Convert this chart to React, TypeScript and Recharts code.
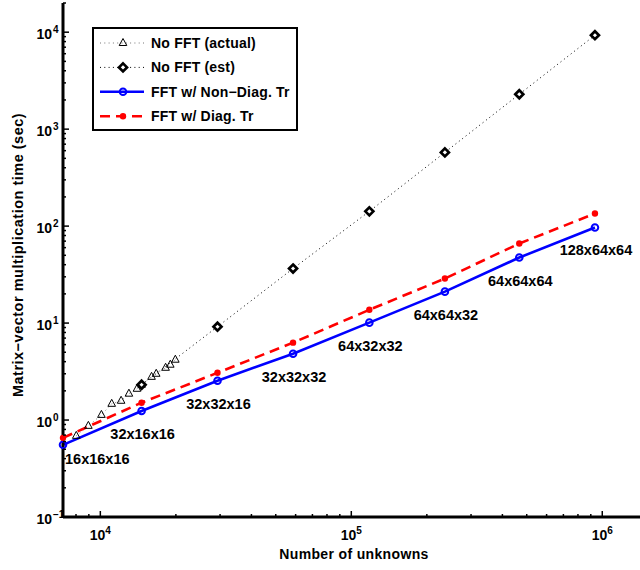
import React from 'react';
import { Label, LabelList, Legend, Line, LineChart, XAxis, YAxis } from 'recharts';

// problem sizes (number of unknowns) and grid names
const unknowns = [7100, 14600, 29300, 58600, 118000, 236000, 467000, 935000];
const gridLabels = ['16x16x16', '32x16x16', '32x32x16', '32x32x32', '64x32x32', '64x64x32', '64x64x64', '128x64x64'];

// timings in seconds
const nonDiagTime = [0.555, 1.24, 2.54, 4.83, 10.1, 21.1, 47.4, 96.8];
const diagTime = [0.655, 1.51, 3.07, 6.28, 13.7, 28.8, 66.1, 135];
const estUnknowns = [14600, 29300, 58600, 118000, 236000, 467000, 935000];
const estTime = [2.31, 9.18, 36.5, 142, 576, 2290, 9310];
const actualUnknowns = [8020, 8960, 10100, 11100, 12100, 13000, 14000, 14600, 16000, 16700, 18200, 19000, 19900];
const actualTime = [0.687, 0.871, 1.13, 1.47, 1.58, 1.87, 2.1, 2.31, 2.79, 3.0, 3.46, 3.72, 4.19];

const legendNames = ['No FFT (actual)', 'No FFT (est)', 'FFT w/ Non\u2212Diag. Tr', 'FFT w/ Diag. Tr'];

const xTicks = [
  8e3, 9e3, 1e4, 2e4, 3e4, 4e4, 5e4, 6e4, 7e4, 8e4, 9e4,
  1e5, 2e5, 3e5, 4e5, 5e5, 6e5, 7e5, 8e5, 9e5, 1e6,
];
const yTicks = [
  0.1, 0.2, 0.3, 0.4, 0.5, 0.6, 0.7, 0.8, 0.9,
  1, 2, 3, 4, 5, 6, 7, 8, 9,
  10, 20, 30, 40, 50, 60, 70, 80, 90,
  100, 200, 300, 400, 500, 600, 700, 800, 900,
  1000, 2000, 3000, 4000, 5000, 6000, 7000, 8000, 9000,
  10000, 20000,
];

const mk = (xs: number[], ys: number[]) => xs.map((x, i) => ({ x, y: ys[i], label: gridLabels[i] }));
const nonDiagData = mk(unknowns, nonDiagTime);
const diagData = mk(unknowns, diagTime);
const estData = estUnknowns.map((x, i) => ({ x, y: estTime[i] }));
const actualData = actualUnknowns.map((x, i) => ({ x, y: actualTime[i] }));

const FONT = '"Liberation Sans", Arial, Helvetica, sans-serif';
const txt = { fontFamily: FONT, fontWeight: 700, fill: '#000' } as const;

const decade = (v: number) => {
  const e = Math.round(Math.log10(v));
  return { e, major: Math.abs(Math.log10(v) - e) < 1e-6 };
};
const expText = (e: number) => (e < 0 ? '\u2212' + Math.abs(e) : String(e));

const XTickBottom = (props: any) => {
  const { x, y, payload } = props;
  const { e, major } = decade(payload.value);
  return (
    <g>
      <line x1={x} x2={x} y1={y} y2={y - (major ? 6 : 3)} stroke="#000" strokeWidth={1.5} />
      {major && (
        <text x={x} y={y + 23} textAnchor="middle" style={txt}>
          <tspan fontSize={14}>10</tspan>
          <tspan fontSize={10} dy={-6}>{expText(e)}</tspan>
        </text>
      )}
    </g>
  );
};

const XTickTop = (props: any) => {
  const { x, y, payload } = props;
  const { major } = decade(payload.value);
  return <line x1={x} x2={x} y1={y} y2={y + (major ? 6 : 3)} stroke="#000" strokeWidth={1.5} />;
};

const YTickLeft = (props: any) => {
  const { x, y, payload } = props;
  const { e, major } = decade(payload.value);
  return (
    <g>
      <line x1={x} x2={x + (major ? 6 : 3)} y1={y} y2={y} stroke="#000" strokeWidth={1.5} />
      {major && (
        <>
          <text x={x - 11} y={y + 7} textAnchor="end" fontSize={14} style={txt}>10</text>
          <text x={x - 10} y={y + 1} textAnchor="start" fontSize={10} style={txt}>{expText(e)}</text>
        </>
      )}
    </g>
  );
};

// markers
const Triangle = ({ cx, cy }: any) => (
  <path d={`M${cx},${cy - 4.5} L${cx + 3.8},${cy + 2.5} L${cx - 3.8},${cy + 2.5} Z`} fill="none" stroke="#000" strokeWidth={1} />
);
const Diamond = ({ cx, cy }: any) => (
  <path d={`M${cx},${cy - 4} L${cx + 4},${cy} L${cx},${cy + 4} L${cx - 4},${cy} Z`} fill="#fff" stroke="#000" strokeWidth={2.7} />
);
const OpenCircle = ({ cx, cy }: any) => <circle cx={cx} cy={cy} r={3.3} fill="none" stroke="#0000ff" strokeWidth={2} />;
const RedDot = ({ cx, cy }: any) => <circle cx={cx} cy={cy} r={3.2} fill="#ff0000" />;

const seriesStyles = [
  { stroke: '#777', width: 1, dash: '1 3.3', Marker: Triangle },
  { stroke: '#000', width: 1, dash: '1 3.3', Marker: Diamond },
  { stroke: '#0000ff', width: 2.6, dash: undefined, Marker: OpenCircle },
  { stroke: '#ff0000', width: 2.6, dash: '10 6', Marker: RedDot },
];

const renderDot = (Marker: any) => (p: any) => <Marker key={p.index} cx={p.cx} cy={p.cy} />;

const LegendBox = () => (
  <svg width={206} height={104} style={{ display: 'block' }}>
    <rect x={1} y={1} width={204} height={102} fill="#fff" stroke="#000" strokeWidth={2} />
    {legendNames.map((name, i) => {
      const cy = 16 + i * 24.4;
      const s = seriesStyles[i];
      const M = s.Marker;
      return (
        <g key={name}>
          <line x1={8} x2={52} y1={cy} y2={cy} stroke={s.stroke} strokeWidth={s.width} strokeDasharray={s.dash} />
          <M cx={31} cy={cy} />
          <text x={59} y={cy + 5} fontSize={14} style={{ ...txt, letterSpacing: 0.2 }}>{name}</text>
        </g>
      );
    })}
  </svg>
);

const GridLabel = (props: any) => {
  const { x, y, value, index } = props;
  const first = index === 0;
  return (
    <text
      x={first ? x + 2 : x + 1}
      y={first ? y + 19 : y + 28}
      textAnchor={first ? 'start' : 'middle'}
      fontSize={14.5}
      style={txt}
    >
      {value}
    </text>
  );
};

const axisLine = { stroke: '#000', strokeWidth: 3 };

export default function App() {
  return (
    <div style={{ position: 'absolute', left: 0, top: 0, width: 640, height: 570, overflow: 'hidden', background: '#fff' }}>
      <LineChart width={660} height={570} margin={{ top: 3, right: 15, bottom: 0, left: 0 }}>
        <XAxis
          xAxisId="b"
          dataKey="x"
          type="number"
          scale="log"
          domain={[7100, 1.48e6]}
          ticks={xTicks}
          interval={0}
          tick={<XTickBottom />}
          tickLine={false}
          tickSize={0}
          tickMargin={0}
          axisLine={axisLine}
          height={53}
        >
          <Label
            content={() => (
              <text x={354} y={559} textAnchor="middle" fontSize={14} style={{ ...txt, letterSpacing: 0.35 }}>
                Number of unknowns
              </text>
            )}
          />
        </XAxis>
        <XAxis
          xAxisId="t"
          orientation="top"
          dataKey="x"
          type="number"
          scale="log"
          domain={[7100, 1.48e6]}
          ticks={xTicks}
          interval={0}
          tick={<XTickTop />}
          tickLine={false}
          tickSize={0}
          tickMargin={0}
          axisLine={axisLine}
          height={0}
        />
        <YAxis
          yAxisId="l"
          dataKey="y"
          type="number"
          scale="log"
          domain={[0.1, 20000]}
          ticks={yTicks}
          interval={0}
          tick={<YTickLeft />}
          tickLine={false}
          tickSize={0}
          tickMargin={0}
          axisLine={axisLine}
          width={63}
        >
          <Label
            content={() => (
              <text
                transform="translate(23,255) rotate(-90)"
                textAnchor="middle"
                fontSize={14.5}
                style={{ ...txt, letterSpacing: 0.5 }}
              >
                {'Matrix\u2212vector multiplication time (sec)'}
              </text>
            )}
          />
        </YAxis>
        <Legend
          layout="horizontal"
          verticalAlign="middle"
          align="center"
          content={() => <LegendBox />}
          wrapperStyle={{ left: 92, top: 27, width: 206, height: 104 }}
        />
        <Line
          xAxisId="b"
          yAxisId="l"
          data={actualData}
          dataKey="y"
          name={legendNames[0]}
          stroke="#777"
          strokeWidth={1}
          strokeDasharray="1 3.3"
          dot={renderDot(Triangle)}
          activeDot={false}
          isAnimationActive={false}
        />
        <Line
          xAxisId="b"
          yAxisId="l"
          data={estData}
          dataKey="y"
          name={legendNames[1]}
          stroke="#000"
          strokeWidth={1}
          strokeDasharray="1 3.3"
          dot={renderDot(Diamond)}
          activeDot={false}
          isAnimationActive={false}
        />
        <Line
          xAxisId="b"
          yAxisId="l"
          data={nonDiagData}
          dataKey="y"
          name={legendNames[2]}
          stroke="#0000ff"
          strokeWidth={2.6}
          dot={renderDot(OpenCircle)}
          activeDot={false}
          isAnimationActive={false}
        >
          <LabelList dataKey="label" content={<GridLabel />} />
        </Line>
        <Line
          xAxisId="b"
          yAxisId="l"
          data={diagData}
          dataKey="y"
          name={legendNames[3]}
          stroke="#ff0000"
          strokeWidth={2.6}
          strokeDasharray="10 6"
          dot={renderDot(RedDot)}
          activeDot={false}
          isAnimationActive={false}
        />
      </LineChart>
    </div>
  );
}
